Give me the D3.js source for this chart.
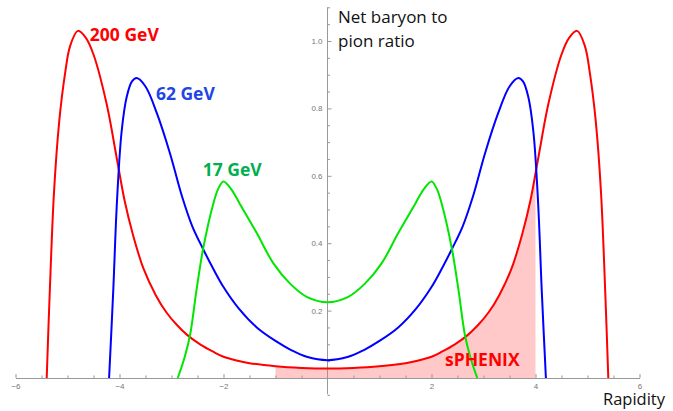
<!DOCTYPE html>
<html>
<head>
<meta charset="utf-8">
<script src="https://cdn.jsdelivr.net/npm/d3@7"></script>
<style>
  html, body { margin: 0; padding: 0; background: #fff; }
  svg { display: block; }
  .tick-label { font-family: "Liberation Sans", Arial, sans-serif; font-size: 8px; fill: #777; }
</style>
</head>
<body>
<div id="chart"></div>
<script>
// Net baryon / pion ratio vs rapidity
const redX = [-5.4, -5.34, -5.26, -5.16, -5.05, -4.95, -4.8, -4.65, -4.5, -4.25, -4.05, -3.9, -3.75, -3.54, -3.3, -3.1, -2.9, -2.7, -2.45, -2.2, -2.0, -1.75, -1.5, -1.0, -0.5, 0,
              0.5, 1.0, 1.5, 1.75, 2.0, 2.2, 2.45, 2.7, 2.9, 3.1, 3.3, 3.54, 3.75, 3.9, 4.05, 4.25, 4.5, 4.65, 4.8, 4.95, 5.05, 5.16, 5.26, 5.34, 5.4];
const redY = [0, 0.26, 0.55, 0.76, 0.9, 0.985, 1.03, 1.01, 0.96, 0.815, 0.65, 0.525, 0.43, 0.325, 0.245, 0.195, 0.158, 0.128, 0.1, 0.078, 0.063, 0.052, 0.044, 0.035, 0.03, 0.028,
              0.03, 0.035, 0.044, 0.052, 0.063, 0.078, 0.1, 0.128, 0.158, 0.195, 0.245, 0.325, 0.43, 0.525, 0.65, 0.815, 0.96, 1.01, 1.03, 0.985, 0.9, 0.76, 0.55, 0.26, 0];

const blueX = [-4.2, -4.12, -4.05, -3.96, -3.86, -3.76, -3.67, -3.5, -3.28, -3.03, -2.8, -2.6, -2.4, -2.2, -2.0, -1.7, -1.36, -1.0, -0.7, -0.4, 0,
               0.4, 0.7, 1.0, 1.36, 1.7, 2.0, 2.2, 2.4, 2.6, 2.8, 3.03, 3.28, 3.5, 3.67, 3.76, 3.86, 3.96, 4.05, 4.12, 4.2];
const blueY = [0, 0.26, 0.52, 0.73, 0.835, 0.88, 0.89, 0.865, 0.785, 0.667, 0.54, 0.45, 0.385, 0.325, 0.27, 0.205, 0.15, 0.11, 0.083, 0.063, 0.053,
               0.063, 0.083, 0.11, 0.15, 0.205, 0.27, 0.325, 0.385, 0.45, 0.54, 0.667, 0.785, 0.865, 0.89, 0.88, 0.835, 0.73, 0.52, 0.26, 0];

const greenX = [-2.88, -2.75, -2.64, -2.52, -2.39, -2.2, -2.1, -2.0, -1.85, -1.68, -1.36, -1.04, -0.72, -0.4, 0,
                0.4, 0.72, 1.04, 1.36, 1.68, 1.85, 2.0, 2.1, 2.2, 2.39, 2.52, 2.64, 2.75, 2.88];
const greenY = [0, 0.06, 0.13, 0.26, 0.385, 0.515, 0.562, 0.583, 0.56, 0.515, 0.43, 0.34, 0.28, 0.241, 0.225,
                0.241, 0.28, 0.34, 0.43, 0.515, 0.56, 0.583, 0.562, 0.515, 0.385, 0.26, 0.13, 0.06, 0];

const xMajorTicks = [-6, -4, -2, 2, 4, 6];
const yMajorTicks = [0.2, 0.4, 0.6, 0.8, 1.0];
const sphenixRange = [-1, 4];

const series = [
  { name: '200 GeV', xs: redX, ys: redY, color: '#ff0000', labelColor: '#ff0000', lx: -4.57, ly: 1.0 },
  { name: '62 GeV', xs: blueX, ys: blueY, color: '#0000ff', labelColor: '#1f45e6', lx: -3.3, ly: 0.825 },
  { name: '17 GeV', xs: greenX, ys: greenY, color: '#00e600', labelColor: '#00b050', lx: -2.4, ly: 0.6 }
];

const width = 673, height = 411;

const x = d3.scaleLinear().domain([-6, 6]).range([15.5, 639.5]);
const y = d3.scaleLinear().domain([0, 1]).range([378, 41]);

const svg = d3.select('#chart').append('svg')
  .attr('width', width)
  .attr('height', height);

const pts = s => s.xs.map((v, i) => [v, s.ys[i]]);
const curve = d3.curveCatmullRom.alpha(0.5);

// sPHENIX acceptance: area under the 200 GeV curve
svg.append('defs').append('clipPath')
  .attr('id', 'sphenix-clip')
  .append('rect')
  .attr('x', x(sphenixRange[0]))
  .attr('y', 0)
  .attr('width', x(sphenixRange[1]) - x(sphenixRange[0]))
  .attr('height', y(0));

const area = d3.area()
  .x(d => x(d[0]))
  .y0(y(0))
  .y1(d => y(d[1]))
  .curve(curve);

svg.append('path')
  .datum(pts(series[0]))
  .attr('d', area)
  .attr('fill', '#ffc9c9')
  .attr('clip-path', 'url(#sphenix-clip)');

// Axes
const axisColor = '#999';

const xMinor = d3.range(-11, 12).map(i => i * 0.5).filter(v => v % 2 !== 0);
const yMinor = d3.range(-1, 23).map(i => +(i * 0.05).toFixed(2)).filter(v => v !== 0 && Math.round(v * 100) % 20 !== 0);

const xAxis = svg.append('g').attr('transform', `translate(0,${y(0)})`);
xAxis.call(d3.axisBottom(x).tickValues(xMajorTicks).tickSize(-4).tickSizeOuter(0).tickPadding(5)
  .tickFormat(d => d3.format('d')(d).replace('-', '\u2212')));
xAxis.append('g').call(d3.axisBottom(x).tickValues(xMinor).tickSize(-2.5).tickFormat(''))
  .select('.domain').remove();

const yAxis = svg.append('g').attr('transform', `translate(${x(0)},0)`);
yAxis.call(d3.axisLeft(y).tickValues(yMajorTicks).tickSize(-4).tickPadding(5).tickFormat(d3.format('.1f')));
yAxis.append('g').call(d3.axisLeft(y).tickValues(yMinor).tickSize(-2.5).tickFormat(''))
  .select('.domain').remove();
yAxis.select('.domain').remove();
yAxis.append('line')
  .attr('y1', y(1.1)).attr('y2', y(-0.048));

svg.selectAll('.domain, .tick line, g > line').attr('stroke', axisColor).attr('stroke-width', 1);
svg.selectAll('.tick text').attr('class', 'tick-label').attr('fill', null);

// Curves
const line = d3.line()
  .x(d => x(d[0]))
  .y(d => y(d[1]))
  .curve(curve);

series.forEach(s => {
  svg.append('path')
    .datum(pts(s))
    .attr('d', line)
    .attr('fill', 'none')
    .attr('stroke', s.color)
    .attr('stroke-width', 2);
});

// Series labels
const labelFont = '"Open Sans", sans-serif';
series.forEach(s => {
  svg.append('text')
    .attr('x', x(s.lx))
    .attr('y', y(s.ly))
    .attr('fill', s.labelColor)
    .style('font-family', labelFont)
    .style('font-weight', 'bold')
    .style('font-size', '17.5px')
    .text(s.name);
});

svg.append('text')
  .attr('x', 445)
  .attr('y', 366)
  .attr('fill', '#ff0000')
  .style('font-family', labelFont)
  .style('font-weight', 'bold')
  .style('font-size', '17.5px')
  .text('sPHENIX');

// Axis titles
const titleFont = '"Open Sans", sans-serif';
const yTitle = svg.append('text')
  .style('font-family', titleFont)
  .style('font-size', '17px')
  .attr('fill', '#111');
yTitle.append('tspan').attr('x', 338).attr('y', 23).text('Net baryon to');
yTitle.append('tspan').attr('x', 338).attr('y', 47).text('pion ratio');

svg.append('text')
  .attr('x', 603)
  .attr('y', 405)
  .style('font-family', titleFont)
  .style('font-size', '16.5px')
  .attr('fill', '#111')
  .text('Rapidity');
</script>
</body>
</html>
